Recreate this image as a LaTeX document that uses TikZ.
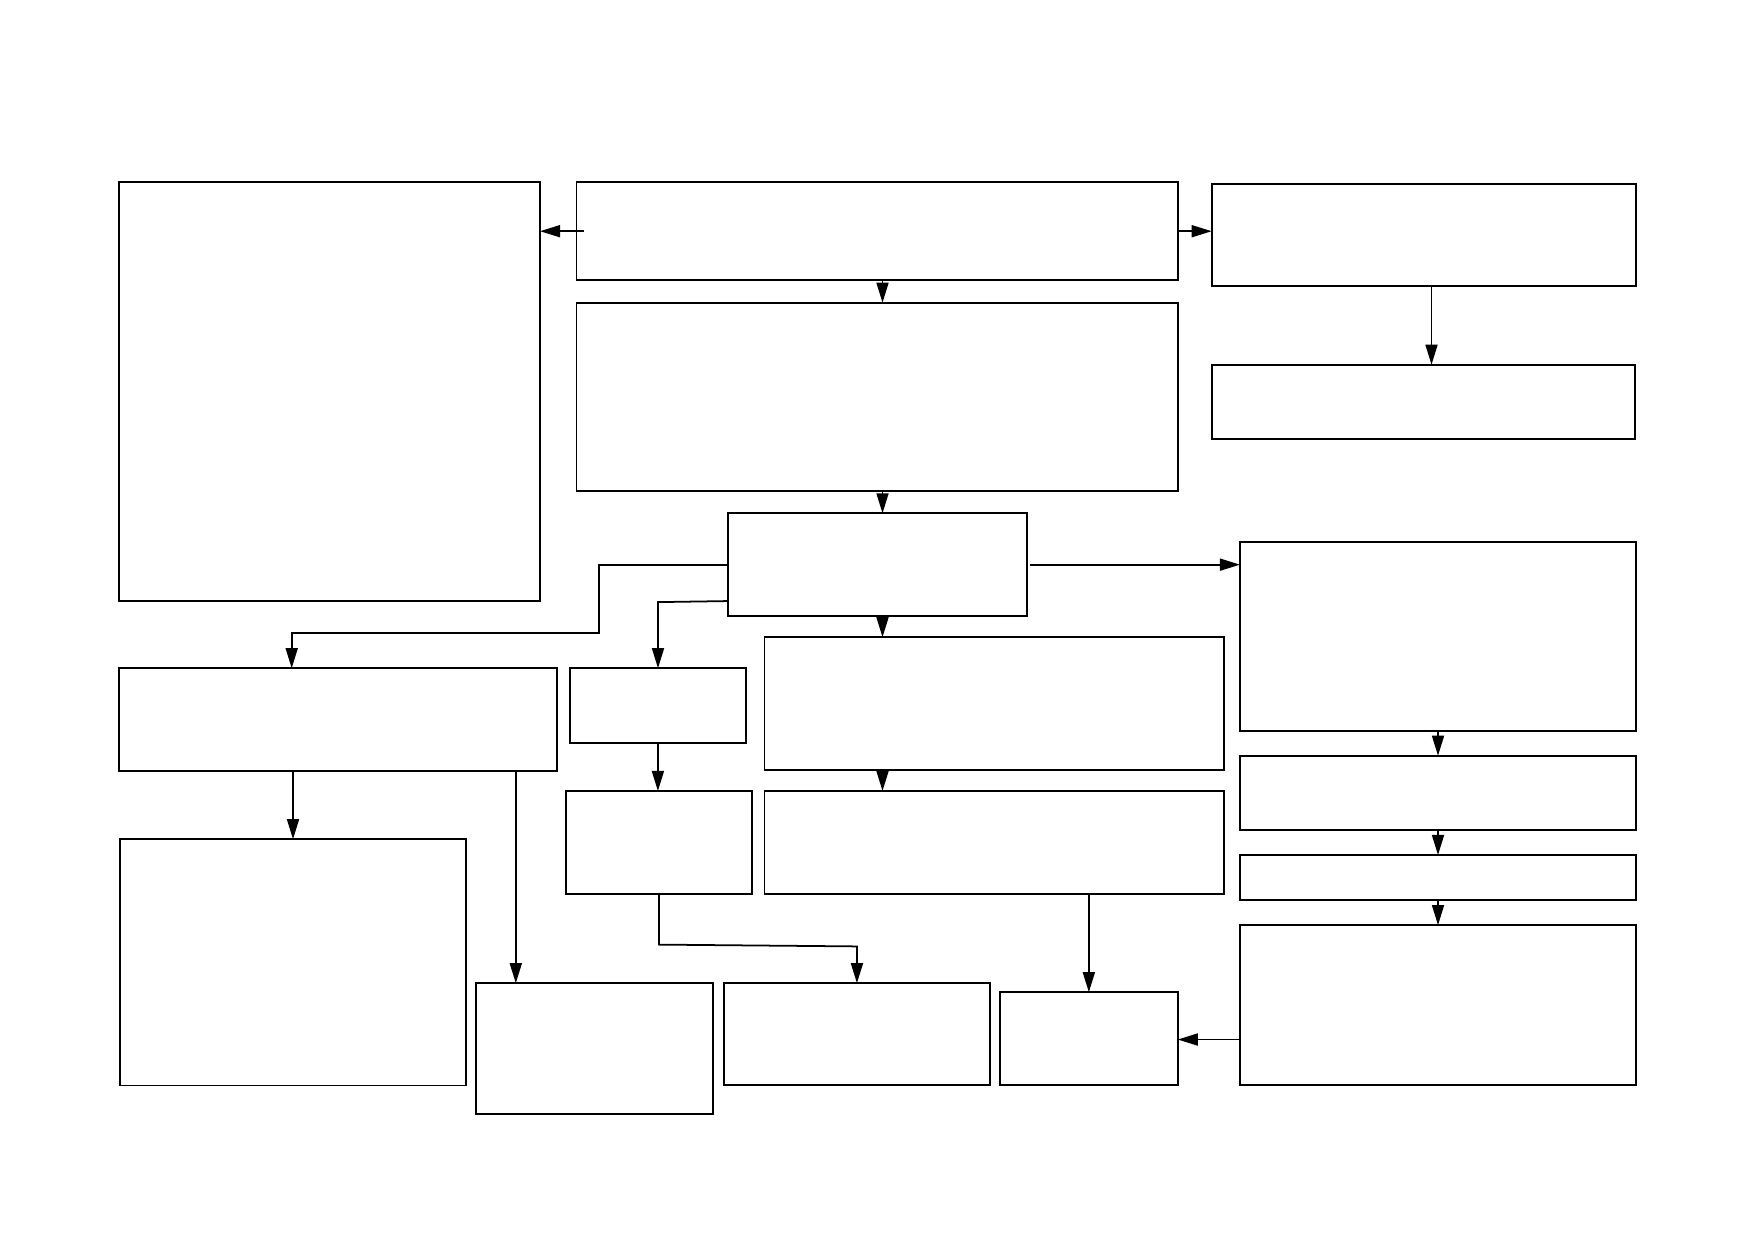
\documentclass[tikz,border=0pt]{standalone}
\usetikzlibrary{arrows.meta,fit,calc}
\begin{document}
\begin{tikzpicture}[x=0.01cm,y=-0.01cm,
  box/.style={draw, line width=0.55pt, rectangle, inner sep=0pt, outer sep=0pt},
  arr/.style={line width=0.5pt, -{Triangle[length=5.7pt,width=3.4pt]}},
  ln/.style={line width=0.5pt}]
\useasboundingbox (0,0) rectangle (1752,1239);
% boxes
\node[box, fit={(119,182)(540,601)}] (A) {};
\node[box, fit={(576.5,182)(1177.7,280.4)}] (B) {};
\node[box, fit={(576.5,302.7)(1177.7,491.2)}] (C) {};
\node[box, fit={(1211.7,183.7)(1635.7,286.3)}] (D) {};
\node[box, fit={(1212,364.7)(1635,438.7)}] (E) {};
\node[box, fit={(727.7,513.3)(1027,616)}] (F) {};
\node[box, fit={(1240,542)(1636,730.7)}] (G) {};
\node[box, fit={(1240,755.7)(1636,830.3)}] (H) {};
\node[box, fit={(1240,855)(1636,900)}] (I) {};
\node[box, fit={(1240,925.1)(1636,1085.2)}] (J) {};
\node[box, fit={(1000,992.2)(1177.7,1085)}] (K) {};
\node[box, fit={(764.5,637.2)(1223.6,769.7)}] (C2) {};
\node[box, fit={(764.5,791)(1223.6,894)}] (C3) {};
\node[box, fit={(118.9,668.2)(557,771.2)}] (L1) {};
\node[box, fit={(119.8,839.2)(466.2,1085.5)}] (L2) {};
\node[box, fit={(476.3,983.2)(713,1114.3)}] (M) {};
\node[box, fit={(569.8,668.2)(746,742.7)}] (N) {};
\node[box, fit={(565.6,791)(752.3,894.3)}] (O) {};
\node[box, fit={(723.8,983.2)(990,1085)}] (P) {};
% helper coordinates
\coordinate (ax) at (882.5,0);
\coordinate (dx) at (1431.5,0);
\coordinate (k1) at (599,633);
\coordinate (k2) at (291.7,633);
\coordinate (k3) at (658,602.1);
\coordinate (k4) at (659,944.6);
\coordinate (k5) at (857,946.4);
\coordinate (k6) at (515.8,0);
\coordinate (k7) at (0,1039.5);
% connectors
\draw[arr] ($(B.west)+(7,0)$) -- (B.west -| A.east);
\draw[arr] (B.east) -- (B.east -| D.west);
\draw[arr] (B.south -| ax) -- (C.north -| ax);
\draw[arr] (C.south -| ax) -- (F.north -| ax);
\draw[arr] (F.south -| ax) -- (C2.north -| ax);
\draw[arr] (C2.south -| ax) -- (C3.north -| ax);
\draw[arr] (D.south -| dx) -- (E.north -| dx);
\draw[arr] ($(F.east)+(2.7,0)$) -- (F.east -| G.west);
\draw[arr] (G.south) -- (H.north);
\draw[arr] (H.south) -- (I.north);
\draw[arr] (I.south) -- (J.north);
\draw[arr] (J.west |- k7) -- (K.east |- k7);
\draw[arr] (K.north |- C3.south) -- (K.north);
\draw[arr] (F.west) -| (k1) -- (k2) -- (k2 |- L1.north);
\draw[arr] ($(F.west)+(0,36.4)$) -- (k3) -- (k3 |- N.north);
\draw[arr] (N.south) -- (N.south |- O.north);
\draw[arr] (O.south) -- (O.south |- k4) -- (k5) -- (P.north);
\draw[arr] (L2.north |- L1.south) -- (L2.north);
\draw[arr] (k6 |- L1.south) -- (k6 |- M.north);
\end{tikzpicture}
\end{document}
